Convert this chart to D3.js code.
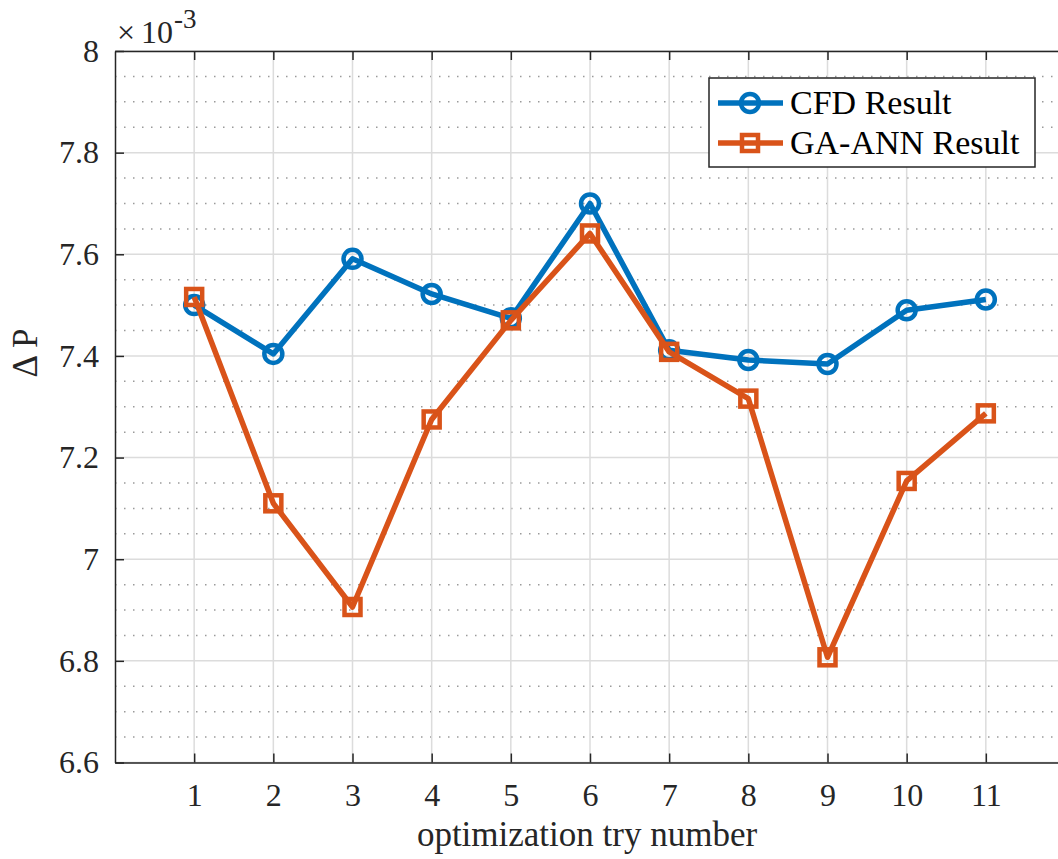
<!DOCTYPE html>
<html>
<head>
<meta charset="utf-8">
<script src="https://cdn.jsdelivr.net/npm/d3@7"></script>
<style>
  html, body { margin: 0; padding: 0; background: #fff; }
  svg { display: block; }
</style>
</head>
<body>
<svg id="chart" width="1058" height="859"></svg>
<script>
// Optimization trials (x) and pressure drop values (scaled by 1e-3)
const tries = [1, 2, 3, 4, 5, 6, 7, 8, 9, 10, 11];
const cfdResult = [7.500, 7.404, 7.591, 7.522, 7.474, 7.700, 7.411, 7.392, 7.384, 7.490, 7.511];
const gaAnnResult = [7.516, 7.110, 6.906, 7.275, 7.470, 7.641, 7.408, 7.316, 6.807, 7.154, 7.287];
const yTicks = [6.6, 6.8, 7, 7.2, 7.4, 7.6, 7.8, 8];
const yTickLabels = ["6.6", "6.8", "7", "7.2", "7.4", "7.6", "7.8", "8"];
const seriesNames = ["CFD Result", "GA-ANN Result"];

const FONT = "Liberation Serif";
const blue = "#0072BD", orange = "#D95319";
const svg = d3.select("#chart");

const plotLeft = 115, plotTop = 51, plotBottom = 762.5, plotRight = 1065;
const x = d3.scaleLinear().domain([0, 12]).range([plotLeft, plotRight]);
const y = d3.scaleLinear().domain([6.6, 8]).range([plotBottom, plotTop]);

const g = svg.append("g");

// minor grid (dotted)
const minor = d3.range(6.6, 8.0001, 0.05).filter(v => Math.abs(Math.round(v * 5) - v * 5) > 1e-6);
g.selectAll("line.minor").data(minor).join("line")
  .attr("x1", plotLeft).attr("x2", plotRight)
  .attr("y1", d => y(d)).attr("y2", d => y(d))
  .attr("stroke", "#9a9a9a").attr("stroke-width", 1.5)
  .attr("stroke-dasharray", "1.5,7.5");

// major grid
g.selectAll("line.hgrid").data(yTicks).join("line")
  .attr("x1", plotLeft).attr("x2", plotRight)
  .attr("y1", d => y(d)).attr("y2", d => y(d))
  .attr("stroke", "#dcdcdc").attr("stroke-width", 1.5);
g.selectAll("line.vgrid").data(tries).join("line")
  .attr("x1", d => x(d)).attr("x2", d => x(d))
  .attr("y1", plotTop).attr("y2", plotBottom)
  .attr("stroke", "#dcdcdc").attr("stroke-width", 1.5);

// axes
const xAxis = d3.axisBottom(x).tickValues(tries).tickSizeInner(-9).tickSizeOuter(0).tickPadding(21);
const yAxis = d3.axisLeft(y).tickValues(yTicks).tickFormat((d, i) => yTickLabels[i]).tickSizeInner(-9).tickSizeOuter(0).tickPadding(16);
const xTop = d3.axisTop(x).tickValues(tries).tickSizeInner(-9).tickSizeOuter(0).tickFormat("");

function styleAxis(sel) {
  sel.attr("font-family", FONT).attr("font-size", 32);
  sel.select(".domain").attr("stroke", "#262626").attr("stroke-width", 1.5);
  sel.selectAll(".tick line").attr("stroke", "#262626").attr("stroke-width", 1.5);
  sel.selectAll(".tick text").attr("fill", "#262626")
    .attr("font-family", FONT).attr("font-size", 32);
}
svg.append("g").attr("transform", `translate(0,${plotBottom})`).call(xAxis).call(styleAxis);
svg.append("g").attr("transform", `translate(${plotLeft},0)`).call(yAxis).call(styleAxis);
svg.append("g").attr("transform", `translate(0,${plotTop})`).call(xTop).call(styleAxis);

// series
const series = [
  { name: seriesNames[0], values: cfdResult, color: blue, marker: "circle" },
  { name: seriesNames[1], values: gaAnnResult, color: orange, marker: "square" }
];
const line = d3.line().x(d => x(d[0])).y(d => y(d[1]));

function drawMarker(sel, type, color) {
  if (type === "circle") {
    sel.append("circle").attr("r", 9).attr("fill", "none")
      .attr("stroke", color).attr("stroke-width", 4.5);
  } else {
    sel.append("rect").attr("x", -8).attr("y", -8).attr("width", 16).attr("height", 16)
      .attr("fill", "none").attr("stroke", color).attr("stroke-width", 4.5);
  }
}

series.forEach(s => {
  const pts = tries.map((t, i) => [t, s.values[i]]);
  svg.append("path").datum(pts).attr("d", line)
    .attr("fill", "none").attr("stroke", s.color).attr("stroke-width", 5.5)
    .attr("stroke-linejoin", "round");
  svg.selectAll(null).data(pts).join("g")
    .attr("transform", d => `translate(${x(d[0])},${y(d[1])})`)
    .each(function () { drawMarker(d3.select(this), s.marker, s.color); });
});

// exponent label
const ex = svg.append("text").attr("x", 117).attr("y", 43)
  .attr("font-family", FONT).attr("font-size", 32).attr("fill", "#262626");
ex.append("tspan").text("\u00d7");
ex.append("tspan").attr("dx", 6).text("10");
ex.append("tspan").attr("dy", -15).attr("dx", 1).attr("font-size", 27).text("-3");

// axis titles
svg.append("text").attr("x", 587).attr("y", 846).attr("text-anchor", "middle")
  .attr("font-family", FONT).attr("font-size", 35)
  .attr("fill", "#262626").text("optimization try number");
svg.append("text").attr("transform", "translate(37,353) rotate(-90)").attr("text-anchor", "middle")
  .attr("font-family", FONT).attr("font-size", 35)
  .attr("fill", "#262626").text("\u0394 P");

// legend
const lg = svg.append("g");
lg.append("rect").attr("x", 709).attr("y", 78).attr("width", 326).attr("height", 89)
  .attr("fill", "#fff").attr("stroke", "#262626").attr("stroke-width", 1.5);
series.forEach((s, i) => {
  const cy = 103 + i * 40;
  lg.append("line").attr("x1", 718).attr("x2", 783).attr("y1", cy).attr("y2", cy)
    .attr("stroke", s.color).attr("stroke-width", 5.5);
  const m = lg.append("g").attr("transform", `translate(750,${cy})`);
  drawMarker(m, s.marker, s.color);
  lg.append("text").attr("x", 790).attr("y", cy + 11)
    .attr("font-family", FONT).attr("font-size", 34).attr("fill", "#000").text(s.name);
});
</script>
</body>
</html>
